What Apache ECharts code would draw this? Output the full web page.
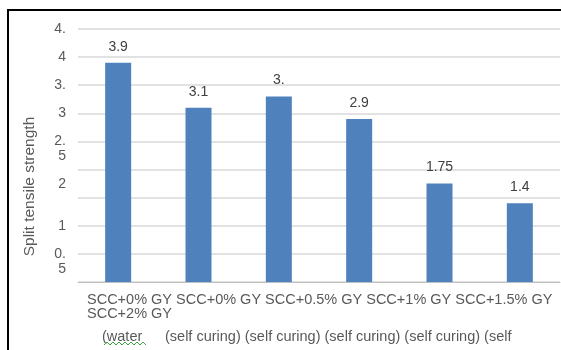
<!DOCTYPE html>
<html>
<head>
<meta charset="utf-8">
<script src="https://cdn.jsdelivr.net/npm/echarts@6/dist/echarts.min.js"></script>
<style>
  html, body { margin: 0; padding: 0; background: #fff; }
  #main { width: 561px; height: 350px; }
</style>
</head>
<body>
<div id="main"></div>
<script>
// mix names and curing type (text is cut off in the source, kept as shown)
const mixNames = ['SCC+0% GY', 'SCC+0% GY', 'SCC+0.5% GY', 'SCC+1% GY', 'SCC+1.5% GY', 'SCC+2% GY'];
const curing = ['(water', '(self curing)', '(self curing)', '(self curing)', '(self curing)', '(self'];
const categories = mixNames.map((m, i) => m + ' ' + curing[i]);

// split tensile strength values
const strength = [3.9, 3.1, 3.3, 2.9, 1.75, 1.4];
// data labels as printed on the chart
const valueLabels = ['3.9', '3.1', '3.', '2.9', '1.75', '1.4'];

// y ticks and their (wrapped) labels
const yTicks = [0, 0.5, 1, 1.5, 2, 2.5, 3, 3.5, 4, 4.5];
const yTickLabels = ['', ' \n0.\n5', '1', '', ' \n \n2', ' \n2.\n5', '3', '3.', '4', '4.'];

const textColor = '#595959';
const font = 'Arial, "Liberation Sans", sans-serif';
const rowFont = '14.5px ' + font;

// wavy spell-check underline under "(water"
let squiggle = [];
for (let i = 0; i <= 14; i++) {
    squiggle.push([104 + i * 3, i % 2 === 0 ? 345 : 342]);
}

let myChart = echarts.init(document.getElementById('main'));
myChart.setOption({
    animation: false,
    backgroundColor: '#fff',
    grid: { left: 78, right: 1, top: 29, bottom: 68 },
    xAxis: {
        type: 'category',
        data: categories,
        axisLine: { lineStyle: { color: '#bfbfbf', width: 1 } },
        axisTick: { show: false },
        axisLabel: { show: false }
    },
    yAxis: {
        type: 'value',
        min: 0,
        max: 4.5,
        interval: 0.5,
        name: 'Split tensile strength',
        nameLocation: 'middle',
        nameGap: 40,
        nameTextStyle: {
            color: textColor, fontSize: 15.5, fontFamily: font,
            padding: [0, 62, 0, 0]
        },
        axisLine: { show: false },
        axisTick: { show: false },
        splitLine: { lineStyle: { color: '#d9d9d9', width: 1.5 } },
        axisLabel: {
            color: textColor,
            fontSize: 14,
            fontFamily: font,
            lineHeight: 15,
            margin: 12,
            formatter: function (v) {
                let i = yTicks.findIndex(t => Math.abs(t - v) < 1e-6);
                return i >= 0 ? yTickLabels[i] : '';
            }
        }
    },
    series: [{
        type: 'bar',
        data: strength,
        barWidth: 26,
        itemStyle: { color: '#4f81bd' },
        label: {
            show: true,
            position: 'top',
            distance: 9,
            color: '#404040',
            fontSize: 14,
            fontFamily: font,
            formatter: p => valueLabels[p.dataIndex]
        }
    }],
    graphic: [
        {
            type: 'rect',
            shape: { x: 8, y: 10, width: 700, height: 500 },
            style: { fill: 'none', stroke: '#000', lineWidth: 2 },
            silent: true
        },
        {
            type: 'text', left: 87, top: 292,
            style: { text: mixNames.slice(0, 5).join(' '), fill: textColor, font: rowFont }
        },
        {
            type: 'text', left: 87, top: 306,
            style: { text: mixNames[5], fill: textColor, font: rowFont }
        },
        {
            type: 'text', left: 102, top: 329,
            style: { text: curing[0], fill: textColor, font: rowFont }
        },
        {
            type: 'text', left: 165, top: 329,
            style: { text: curing.slice(1).join(' '), fill: textColor, font: rowFont }
        },
        {
            type: 'polyline',
            shape: { points: squiggle },
            style: { stroke: '#3aa33a', lineWidth: 1, fill: 'none' },
            silent: true
        }
    ]
});
</script>
</body>
</html>
